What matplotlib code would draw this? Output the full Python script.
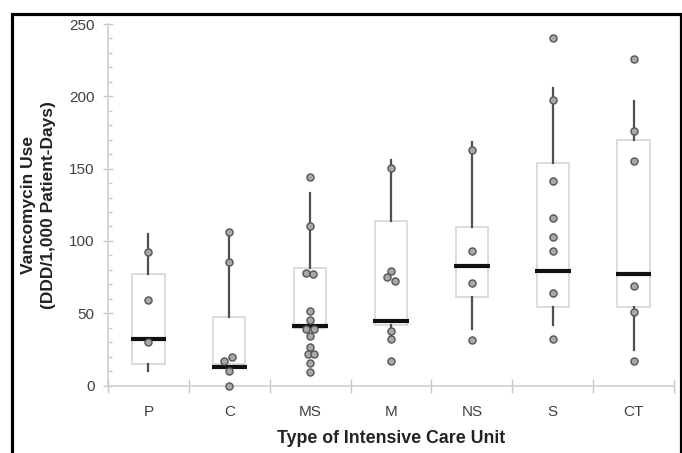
import numpy as np
import matplotlib
matplotlib.use('Agg')
from matplotlib import pyplot as plt
from matplotlib.patches import Rectangle

plt.rcParams['font.family'] = ['Liberation Sans', 'DejaVu Sans']

# Categorias (tipo de UCI)
units = ['P', 'C', 'MS', 'M', 'NS', 'S', 'CT']

# Estadisticos de cada caja: mediana, Q1, Q3, bigote inferior, bigote superior
medians = [32, 12.5, 41, 44.8, 82.4, 79.4, 76.9]
q1s = [14.8, 15, 40, 41.5, 61.4, 54.2, 54.2]
q3s = [77, 47.3, 81.5, 113.6, 109.4, 154, 170.1]
whis_lo = [10, 15, 40, 33, 38.8, 41.5, 24.7]
whis_hi = [105, 106, 133.4, 155.8, 168.7, 205.5, 196.9]

# Puntos individuales por unidad
pts_P = [92, 59, 30]
pts_C = [106, 85.5, 19.5, 17, 10, 0]
pts_MS = [144, 110.5, 78, 77, 51.5, 45, 39, 39, 34, 26.5, 22, 22, 15.5, 9]
pts_M = [150.5, 79, 75, 72.5, 37.5, 32, 17]
pts_NS = [163, 93, 71, 31.5]
pts_S = [240.5, 197.5, 141.5, 116, 103, 93, 64, 32.5]
pts_CT = [226, 176, 155, 68.5, 51, 17]
points = [pts_P, pts_C, pts_MS, pts_M, pts_NS, pts_S, pts_CT]

# Desplazamientos horizontales de puntos superpuestos
jit_C = [0, 0, 0.03, -0.065, 0, 0]
jit_MS = [0, 0, -0.05, 0.03, 0, 0, -0.05, 0.05, 0, 0, -0.03, 0.05, 0, 0]
jit_M = [0, 0, -0.045, 0.05, 0, 0, 0]

fig = plt.figure(figsize=(6.82, 4.53), dpi=100)
ax = fig.add_axes([0.1584, 0.149, 0.8299, 0.798])

stats = []
for i in range(len(units)):
    stats.append({'med': medians[i], 'q1': q1s[i], 'q3': q3s[i],
                  'whislo': whis_lo[i], 'whishi': whis_hi[i], 'fliers': []})

pos = np.arange(len(units))
ax.bxp(stats, positions=pos, widths=0.4, showcaps=False, showfliers=False,
       patch_artist=True,
       boxprops=dict(facecolor='white', edgecolor='#d2d2d2', linewidth=1.1),
       whiskerprops=dict(color='#505050', linewidth=1.6),
       medianprops=dict(linewidth=0),
       zorder=2)

# mediana un poco mas ancha que la caja
for i, m in enumerate(medians):
    ax.plot([i - 0.22, i + 0.22], [m, m], color='#111111', lw=3.0,
            solid_capstyle='butt', zorder=3)

jits = {1: jit_C, 2: jit_MS, 3: jit_M}
for i, vals in enumerate(points):
    off = np.array(jits.get(i, [0] * len(vals)))
    ax.scatter(i + off, vals, s=26, facecolor='#a8a8a8', edgecolor='#555555',
               linewidth=1.0, zorder=4, clip_on=False)

ax.set_xlim(-0.5, 6.5)
ax.set_ylim(0, 250)

for s in ['top', 'right']:
    ax.spines[s].set_visible(False)
for s in ['left', 'bottom']:
    ax.spines[s].set_color('#d0d0d0')
    ax.spines[s].set_linewidth(1.2)

ax.set_yticks(np.arange(0, 251, 50))
ax.set_yticks(np.arange(0, 251, 10), minor=True)
ax.tick_params(axis='y', which='major', direction='inout', length=7,
               color='#c8c8c8', width=1, labelsize=11, labelcolor='#404040', pad=6)
ax.tick_params(axis='y', which='minor', direction='in', length=3,
               color='#c8c8c8', width=1)

ax.set_xticks(pos)
ax.set_xticklabels(units)
ax.set_xticks(np.arange(-0.5, 7, 1), minor=True)
ax.tick_params(axis='x', which='major', length=0, labelsize=11,
               labelcolor='#404040', pad=14)
ax.tick_params(axis='x', which='minor', direction='inout', length=10,
               color='#c8c8c8', width=1)

ax.set_xlabel('Type of Intensive Care Unit', fontsize=12.8, fontweight='bold',
              color='#222222', labelpad=8)
ax.set_ylabel('Vancomycin Use\n(DDD/1,000 Patient-Days)', fontsize=12.5,
              fontweight='bold', color='#222222', linespacing=1.45)
ax.yaxis.set_label_coords(-0.092, 0.5)

# marco negro alrededor de la figura
fig.add_artist(Rectangle((11.5 / 682, -0.05), (680.5 - 11.5) / 682, 1.05 - 13.5 / 453,
                         transform=fig.transFigure, fill=False, edgecolor='black',
                         linewidth=2.3, clip_on=False))

fig.savefig('out.png', dpi=100)
